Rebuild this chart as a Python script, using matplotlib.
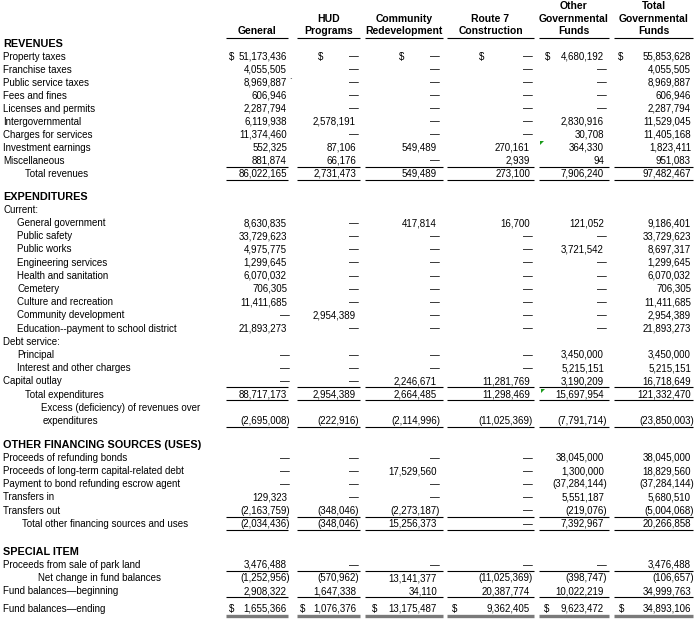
import matplotlib.pyplot as plt

# Column headings (one list of lines per fund column)
columns = [
    ["General"],
    ["HUD", "Programs"],
    ["Community", "Redevelopment"],
    ["Route 7", "Construction"],
    ["Other", "Governmental", "Funds"],
    ["Total", "Governmental", "Funds"],
]

# None = dash; negative = shown in parentheses
revenue_labels = ["Property taxes", "Franchise taxes", "Public service taxes", "Fees and fines",
                  "Licenses and permits", "Intergovernmental", "Charges for services",
                  "Investment earnings", "Miscellaneous"]
revenue_values = [
    [51173436, None, None, None, 4680192, 55853628],
    [4055505, None, None, None, None, 4055505],
    [8969887, None, None, None, None, 8969887],
    [606946, None, None, None, None, 606946],
    [2287794, None, None, None, None, 2287794],
    [6119938, 2578191, None, None, 2830916, 11529045],
    [11374460, None, None, None, 30708, 11405168],
    [552325, 87106, 549489, 270161, 364330, 1823411],
    [881874, 66176, None, 2939, 94, 951083],
]
total_revenues = [86022165, 2731473, 549489, 273100, 7906240, 97482467]

current_labels = ["General government", "Public safety", "Public works", "Engineering services",
                  "Health and sanitation", "Cemetery", "Culture and recreation",
                  "Community development", "Education--payment to school district"]
current_values = [
    [8630835, None, 417814, 16700, 121052, 9186401],
    [33729623, None, None, None, None, 33729623],
    [4975775, None, None, None, 3721542, 8697317],
    [1299645, None, None, None, None, 1299645],
    [6070032, None, None, None, None, 6070032],
    [706305, None, None, None, None, 706305],
    [11411685, None, None, None, None, 11411685],
    [None, 2954389, None, None, None, 2954389],
    [21893273, None, None, None, None, 21893273],
]
debt_labels = ["Principal", "Interest and other charges"]
debt_values = [
    [None, None, None, None, 3450000, 3450000],
    [None, None, None, None, 5215151, 5215151],
]
capital_outlay = [None, None, 2246671, 11281769, 3190209, 16718649]
total_expenditures = [88717173, 2954389, 2664485, 11298469, 15697954, 121332470]
excess = [-2695008, -222916, -2114996, -11025369, -7791714, -23850003]

financing_labels = ["Proceeds of refunding bonds", "Proceeds of long-term capital-related debt",
                    "Payment to bond refunding escrow agent", "Transfers in", "Transfers out"]
financing_values = [
    [None, None, None, None, 38045000, 38045000],
    [None, None, 17529560, None, 1300000, 18829560],
    [None, None, None, None, -37284144, -37284144],
    [129323, None, None, None, 5551187, 5680510],
    [-2163759, -348046, -2273187, None, -219076, -5004068],
]
total_financing = [-2034436, -348046, 15256373, None, 7392967, 20266858]

park_land = [3476488, None, None, None, None, 3476488]
net_change = [-1252956, -570962, 13141377, -11025369, -398747, -106657]
balance_begin = [2908322, 1647338, 34110, 20387774, 10022219, 34999763]
balance_end = [1655366, 1076376, 13175487, 9362405, 9623472, 34893106]

# Layout (pixels)
col_right = [287, 356, 437, 530, 604, 691]
col_span = [(226, 288), (297, 360), (365, 443), (447, 534), (539, 609), (614, 693)]
dollar_top = [229, 318, 399, 479, 545, 618]
dollar_end = [229, 300, 372, 452, 544, 619]
ROW = 13.2
FONT = ["Liberation Sans", "DejaVu Sans"]
BODY = 7.0

fig = plt.figure(figsize=(7, 6.2), dpi=100)
ax = fig.add_axes([0, 0, 1, 1])
ax.set_xlim(0, 700)
ax.set_ylim(620, 0)
ax.axis("off")


def txt(x, y, s, ha="left", size=BODY, weight="normal"):
    ax.text(x, y + 3.6, s, ha=ha, va="baseline", fontsize=size,
            fontweight=weight, family=FONT, color="black")


def fmt(v):
    if v is None:
        return "\u2014"
    if v < 0:
        return "({:,})".format(-v)
    return "{:,}".format(v)


def values_row(y, vals, dollars=None):
    for i, v in enumerate(vals):
        shift = 3 if (v is None or v < 0) else 0
        txt(col_right[i] + shift, y, fmt(v), ha="right")
        if dollars is not None:
            txt(dollars[i], y, "$")


def rule(y, color="black", lw=0.8):
    for a, b in col_span:
        ax.plot([a, b], [y, y], color=color, lw=lw, solid_capstyle="butt")


def section(y, title):
    txt(3, y, title, size=7.8, weight="bold")


# headings
for i, lines in enumerate(columns):
    cx = sum(col_span[i]) / 2
    for k, line in enumerate(lines):
        y = 31 - 12.5 * (len(lines) - 1 - k)
        txt(cx, y - 0.5, line, ha="center", size=7.5, weight="bold")
rule(37.5)

# revenues
y = 43
section(y, "REVENUES")
for k, (lab, vals) in enumerate(zip(revenue_labels, revenue_values)):
    y = 43 + 13.0 * (k + 1)
    txt(3, y, lab)
    values_row(y, vals, dollar_top if k == 0 else None)
y += 13.0
txt(25, y, "Total revenues")
values_row(y, total_revenues)
rule(y - 6.5)
rule(y + 6.5)

# expenditures
y = 196
section(y, "EXPENDITURES")
y += ROW
txt(3, y, "Current:")
for lab, vals in zip(current_labels, current_values):
    y += ROW
    txt(17, y, lab)
    values_row(y, vals)
y += ROW
txt(3, y, "Debt service:")
for lab, vals in zip(debt_labels, debt_values):
    y += ROW
    txt(17, y, lab)
    values_row(y, vals)
y += ROW
txt(3, y, "Capital outlay")
values_row(y, capital_outlay)
y += ROW
txt(25, y, "Total expenditures")
values_row(y, total_expenditures)
rule(y - 6.5)
rule(y + 6.5)
y += ROW
txt(41, y, "Excess (deficiency) of revenues over")
y += ROW
txt(43, y, "expenditures")
values_row(y, excess)
rule(y + 6.3)

# other financing
y = 444
section(y, "OTHER FINANCING SOURCES (USES)")
for lab, vals in zip(financing_labels, financing_values):
    y += ROW
    txt(3, y, lab)
    values_row(y, vals)
y += ROW
txt(22, y, "Total other financing sources and uses")
values_row(y, total_financing)
rule(y - 6.5)
rule(y + 6.5)

# special item
y = 551
section(y, "SPECIAL ITEM")
y += ROW
txt(3, y, "Proceeds from sale of park land")
values_row(y, park_land)
y += ROW
txt(38, y, "Net change in fund balances")
values_row(y, net_change)
rule(y - 6.5)
y += ROW
txt(3, y, "Fund balances\u2014beginning")
values_row(y, balance_begin)
rule(y + 6.5)
y = 608
txt(3, y, "Fund balances\u2014ending")
values_row(y, balance_end, dollar_end)
rule(615.8, color="#7a7a7a", lw=2.4)

# spreadsheet error-check marks and a stray tick
for tx, ty in [(540, 141), (541, 389)]:
    ax.fill([tx, tx + 4, tx], [ty, ty, ty + 4], color="#1a9a1a", lw=0)
txt(290, 79, "`", size=6)

fig.savefig("out.png", dpi=100)
